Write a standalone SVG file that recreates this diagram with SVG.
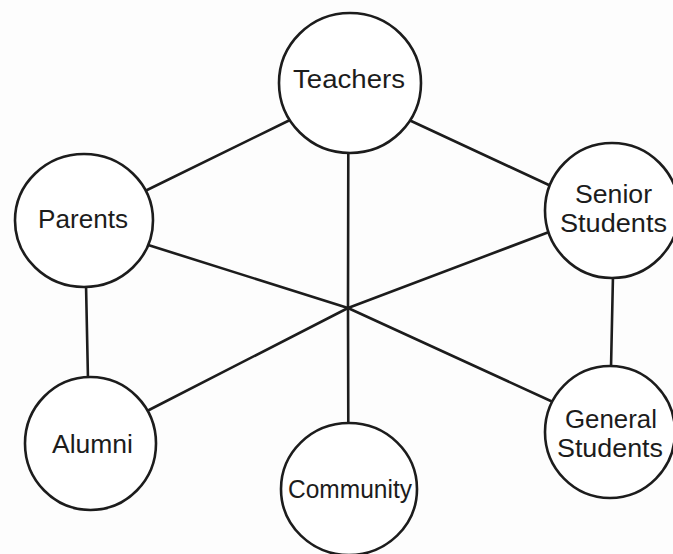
<svg xmlns="http://www.w3.org/2000/svg" width="673" height="554" viewBox="0 0 673 554">
  <style>
    .edge { stroke: #1c1c1c; stroke-width: 2.6; stroke-linecap: round; fill: none; }
    .node { fill: #ffffff; stroke: #1c1c1c; stroke-width: 2.6; }
    .label { font-family: "Liberation Sans", Arial, sans-serif; font-size: 25px; fill: #1c1c1c; text-anchor: middle; }
  </style>
  <rect width="673" height="554" fill="#fdfdfd"/>
  <g id="connectors">
    <line class="edge" x1="348" y1="308" x2="348.3" y2="150"/>
    <line class="edge" x1="348" y1="308" x2="348.3" y2="426"/>
    <line class="edge" x1="348" y1="308" x2="145" y2="244"/>
    <line class="edge" x1="348" y1="308" x2="549" y2="232"/>
    <line class="edge" x1="348" y1="308" x2="149" y2="410"/>
    <line class="edge" x1="348" y1="308" x2="553" y2="402"/>
    <line class="edge" x1="290" y1="120" x2="143" y2="192"/>
    <line class="edge" x1="409" y1="120" x2="551" y2="186"/>
    <line class="edge" x1="86" y1="284" x2="88" y2="380"/>
    <line class="edge" x1="613" y1="275" x2="611" y2="368"/>
  </g>
  <g id="node-teachers">
    <ellipse class="node" cx="350" cy="83" rx="71" ry="70"/>
    <text class="label" x="349" y="88" textLength="112" lengthAdjust="spacingAndGlyphs">Teachers</text>
  </g>
  <g id="node-parents">
    <ellipse class="node" cx="84" cy="220.5" rx="69" ry="66.5"/>
    <text class="label" x="83" y="228" textLength="90" lengthAdjust="spacingAndGlyphs">Parents</text>
  </g>
  <g id="node-senior-students">
    <ellipse class="node" cx="612" cy="210.5" rx="67" ry="67.5"/>
    <text class="label" x="613.5" y="203" textLength="77" lengthAdjust="spacingAndGlyphs">Senior</text>
    <text class="label" x="613.5" y="232" textLength="107" lengthAdjust="spacingAndGlyphs">Students</text>
  </g>
  <g id="node-alumni">
    <ellipse class="node" cx="90.5" cy="443.5" rx="65.5" ry="66.5"/>
    <text class="label" x="92.5" y="453" textLength="81" lengthAdjust="spacingAndGlyphs">Alumni</text>
  </g>
  <g id="node-general-students">
    <ellipse class="node" cx="610" cy="432" rx="65" ry="66"/>
    <text class="label" x="611" y="428" textLength="92" lengthAdjust="spacingAndGlyphs">General</text>
    <text class="label" x="610" y="457" textLength="106" lengthAdjust="spacingAndGlyphs">Students</text>
  </g>
  <g id="node-community">
    <ellipse class="node" cx="349" cy="489" rx="68" ry="66"/>
    <text class="label" x="350" y="498" textLength="124" lengthAdjust="spacingAndGlyphs">Community</text>
  </g>
</svg>
